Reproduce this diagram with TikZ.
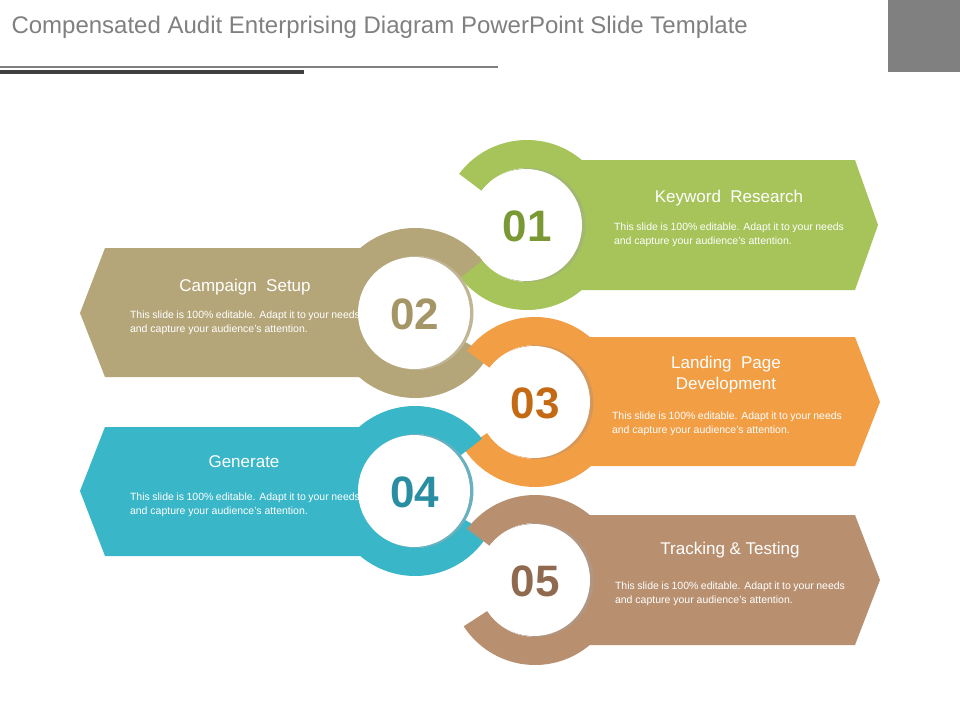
\documentclass[tikz,border=0pt]{standalone}
\usepackage{fontspec}
\setmainfont{Liberation Sans}
\definecolor{cA}{RGB}{166,196,90}\definecolor{nA}{RGB}{122,152,52}
\definecolor{cB}{RGB}{181,166,122}\definecolor{nB}{RGB}{165,150,104}
\definecolor{cC}{RGB}{242,158,69}\definecolor{nC}{RGB}{196,106,20}
\definecolor{cD}{RGB}{57,182,200}\definecolor{nD}{RGB}{42,142,163}
\definecolor{cE}{RGB}{184,144,112}\definecolor{nE}{RGB}{143,106,78}
\tikzset{
 ttl/.style={text=white,font=\fontsize{17}{21}\selectfont,align=center},
 body/.style={text=white,font=\fontsize{10.5}{14}\selectfont,text width=230pt,align=justify,anchor=north},
 num/.style={font=\fontsize{44}{44}\selectfont\bfseries},
}
\newcommand{\ringR}[5]{% x y color start end
 \fill[#3] ({#1+85*cos(#4)},{#2+85*sin(#4)}) arc[start angle=#4,end angle=#5,radius=85]
   -- ({#1+57*cos(#5)},{#2+57*sin(#5)}) arc[start angle=#5,end angle=#4,radius=57] -- cycle;}
\begin{document}
\begin{tikzpicture}[x=1pt,y=-1pt]
\useasboundingbox (0,0) rectangle (960,720);
\fill[white] (0,0) rectangle (960,720);
\node[anchor=west,text=black!50,font=\fontsize{24}{26}\selectfont] (title) at (8,27) {Compensated Audit Enterprising Diagram PowerPoint Slide Template};
\fill[black!50] (888,0) rectangle (960,72);
\draw[black!50,line width=2] (0,67) -- (498,67);
\draw[black!75,line width=4] (0,72) -- (304,72);
% bands
\fill[cA] (527,160) -- (855,160) -- (878,225) -- (855,290) -- (527,290) -- cycle;
\fill[cB] (415,248) -- (105,248) -- (80,313) -- (105,377) -- (415,377) -- cycle;
\fill[cC] (535,337) -- (855,337) -- (880,402) -- (855,466) -- (535,466) -- cycle;
\fill[cD] (415,427) -- (105,427) -- (80,491) -- (105,556) -- (415,556) -- cycle;
\fill[cE] (535,515) -- (855,515) -- (880,580) -- (855,645) -- (535,645) -- cycle;
% rings (angles in y-down frame: positive = clockwise visually)
\ringR{527}{225}{cA}{-143}{147}
\ringR{415}{313}{cB}{-38}{-330}
\ringR{535}{402}{cC}{-143}{147}
\ringR{415}{491}{cD}{-38}{-330}
\ringR{535}{580}{cE}{-143}{147}
\foreach \x/\y/\c in {527/225/nA,415/313/nB,535/402/nC,415/491/nD,535/580/nE}{
 \fill[\c!70] (\x+1.5,\y) circle[radius=57];
 \fill[white] (\x-1,\y) circle[radius=56];}
\node[num,text=nA] (n1) at (527,226) {01};
\node[num,text=nB] (n2) at (415,314) {02};
\node[num,text=nC] (n3) at (535,403) {03};
\node[num,text=nD] (n4) at (415,492) {04};
\node[num,text=nE] (n5) at (535,581) {05};
\def\txt{This slide is 100\% editable. Adapt it to your needs and capture your audience’s attention.}
\node[ttl] (t1) at (729,198) {Keyword\ \ Research};
\node[body] (b1) at (729,219) {\txt};
\node[ttl] (t2) at (245,287) {Campaign\ \ Setup};
\node[body] (b2) at (245,307) {\txt};
\node[ttl] (t3) at (726,375) {Landing\ \ Page\\Development};
\node[body] (b3) at (727,408) {\txt};
\node[ttl] (t4) at (244,462) {Generate};
\node[body] (b4) at (245,489) {\txt};
\node[ttl] (t5) at (730,550) {Tracking \& Testing};
\node[body] (b5) at (730,578) {\txt};
\end{tikzpicture}
\end{document}
